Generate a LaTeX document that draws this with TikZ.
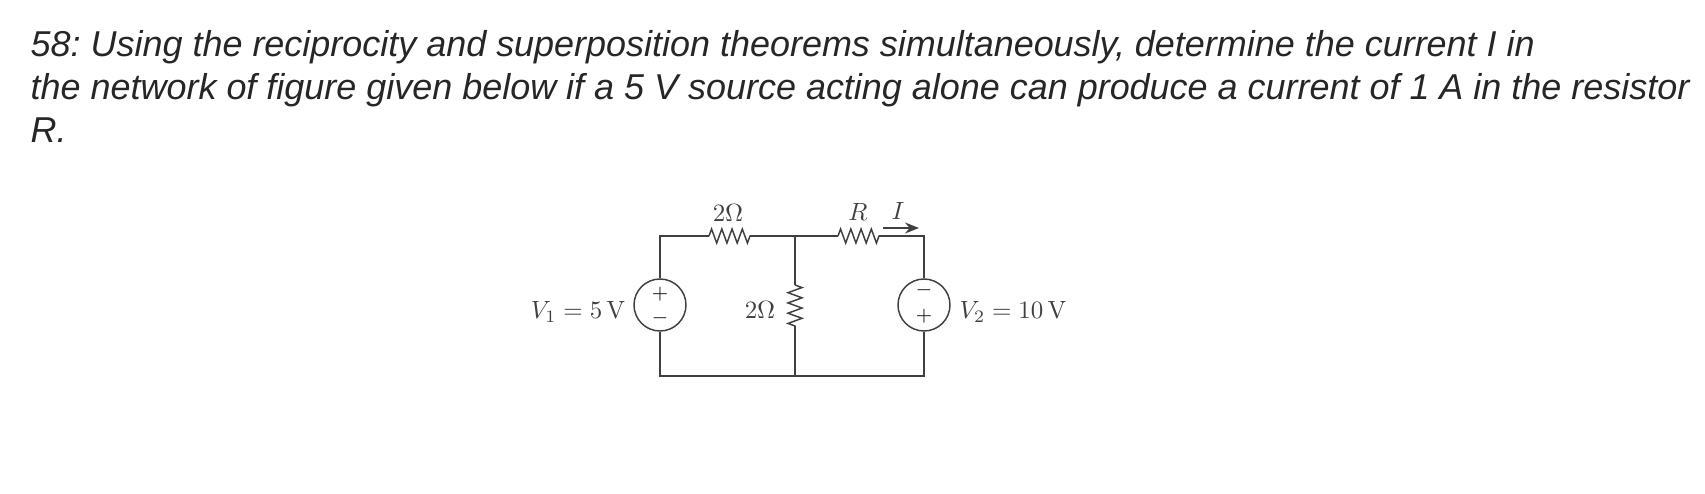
\documentclass[tikz,border=0pt]{standalone}
\usepackage[no-math]{fontspec}
\setmainfont{Liberation Sans}
\usepackage{amsmath}
\usetikzlibrary{arrows.meta}
\usetikzlibrary{decorations.pathmorphing}
\definecolor{wire}{gray}{0.25}
\tikzset{
  conn/.style={draw=wire, line width=0.42pt},
  res/.style={conn, decorate, decoration={zigzag, segment length=0.1025cm, amplitude=0.07cm}},
  src/.style={circle, draw=wire, line width=0.42pt, minimum size=0.52cm, inner sep=0pt},
  lab/.style={text=wire, scale=0.71, inner sep=0pt},
  sgn/.style={text=black, scale=0.6, inner sep=0pt}
}
\begin{document}
\begin{tikzpicture}
        \useasboundingbox (0, 0) rectangle (17.05, 4.93);

        % Question text
        \node[anchor=north west, inner sep=0pt, align=left, text=black!85,
              font=\fontsize{10.23}{12.2}\selectfont\itshape\frenchspacing] (question) at (0.30, 4.63)
            {58: Using the reciprocity and superposition theorems simultaneously, determine the current I in\\
             the network of figure given below if a 5 V source acting alone can produce a current of 1 A in the resistor\\
             R.};

        % Corners and junctions
        \coordinate (tl) at (6.60, 2.57);
        \coordinate (tm) at (7.95, 2.57);
        \coordinate (tr) at (9.24, 2.57);
        \coordinate (bl) at (6.60, 1.17);
        \coordinate (bm) at (7.95, 1.17);
        \coordinate (br) at (9.24, 1.17);

        % Resistor ends
        \coordinate (ra1) at (7.09, 2.57);
        \coordinate (ra2) at (7.50, 2.57);
        \coordinate (rb1) at (8.38, 2.57);
        \coordinate (rb2) at (8.79, 2.57);
        \coordinate (rc1) at (7.95, 2.08);
        \coordinate (rc2) at (7.95, 1.67);

        % Sources
        \node[src] (v1) at (6.60, 1.88) {};
        \node[src] (v2) at (9.24, 1.88) {};

        % Signs on the sources
        \foreach \x/\y/\s/\name in {6.60/1.99/+/pa, 6.60/1.75/-/ma, 9.24/2.03/-/mb, 9.24/1.77/+/pb}
            \node[sgn] (\name) at (\x, \y) {$\s$};

        % Wires
        \draw[conn] (v1.north) -- (tl) -- (ra1);
        \draw[conn] (ra2) -- (tm) -- (rb1);
        \draw[conn] (rb2) -- (tr) -- (v2.north);
        \draw[conn] (v1.south) -- (bl) -- (bm) -- (br) -- (v2.south);
        \draw[conn] (tm) -- (rc1);
        \draw[conn] (rc2) -- (bm);

        % Resistors
        \draw[res] (ra1) -- (ra2);
        \draw[res] (rb1) -- (rb2);
        \draw[res] (rc1) -- (rc2);

        % Labels
        \node[lab] (lra) at (7.28, 2.80) {$2\Omega$};
        \node[lab] (lrb) at (8.58, 2.81) {$R$};
        \node[lab] (lri) at (8.98, 2.82) {$I$};
        \node[lab] (lrc) at (7.60, 1.83) {$2\Omega$};
        \node[lab, anchor=east] (lv1) at (6.26, 1.81) {$V_1 = 5\,\mathrm{V}$};
        \node[lab, anchor=west] (lv2) at (9.59, 1.81) {$V_2 = 10\,\mathrm{V}$};

        % Current arrow
        \coordinate (ia) at (8.83, 2.65);
        \coordinate (ib) at (9.19, 2.65);
        \draw[conn, -{Stealth[length=0.14cm, width=0.11cm]}] (ia) -- (ib);
    \end{tikzpicture}
\end{document}
